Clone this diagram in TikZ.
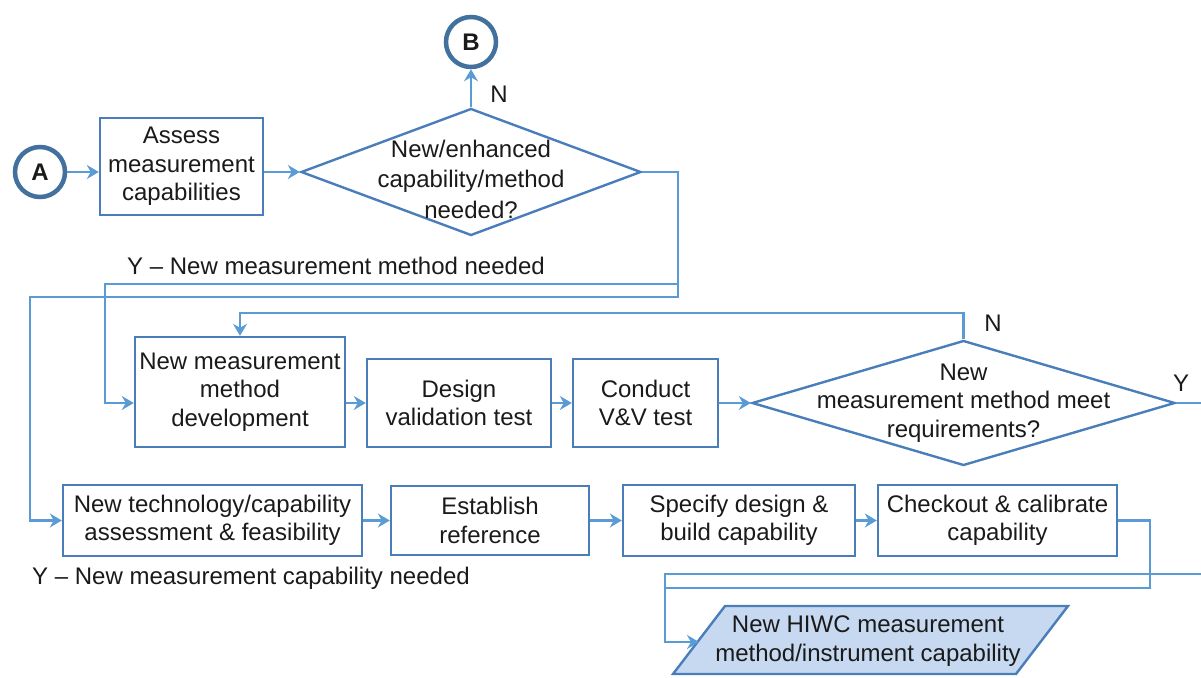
\documentclass[tikz,border=0pt]{standalone}
\usepackage{fontspec}
\setmainfont{Liberation Sans}
\usetikzlibrary{shapes.geometric,arrows.meta}
\definecolor{boxc}{HTML}{4A7EBB}
\definecolor{linec}{HTML}{5B9BD5}
\definecolor{circc}{HTML}{41719C}
\definecolor{parafill}{HTML}{C6D9F1}
\definecolor{txtc}{HTML}{1A1A1A}
\begin{document}
\begin{tikzpicture}[x=1pt,y=-1pt,
  every node/.style={font=\fontsize{24}{28.5}\selectfont, text=txtc},
  txt/.style={align=center, inner sep=0pt},
  box/.style={draw=boxc, line width=2.4pt, align=center, inner sep=0pt},
  dia/.style={diamond, draw=boxc, line width=2.4pt, inner sep=0pt},
  conn/.style={draw=linec, line width=2.2pt},
  arr/.style={conn, -{Stealth[length=12pt,width=14pt,inset=4pt]}},
  circ/.style={circle, draw=circc, line width=4.5pt, minimum size=50pt, inner sep=0pt, font=\fontsize{24}{28}\selectfont\bfseries}]
\useasboundingbox (0,0) rectangle (1201,677);

\node[circ] (A) at (40,172) {A};
\node[circ] (B) at (471,42) {B};
\node[box, minimum width=163pt, minimum height=97pt] (assess) at (181.5,166.5) {Assess\\measurement\\capabilities};
\node[dia, minimum width=340pt, minimum height=127pt] (d1) at (471,172) {};
\node[txt, font=\fontsize{24}{30.5}\selectfont] (d1t) at (471,179) {New/enhanced\\capability/method\\needed?};

\node[box, minimum width=210pt, minimum height=110pt] (nm) at (240,392) {New measurement\\method\\development};
\node[box, minimum width=184pt, minimum height=88pt] (design) at (459,403) {Design\\validation test};
\node[box, minimum width=145pt, minimum height=88pt] (conduct) at (645.5,403) {Conduct\\V\&V test};
\node[dia, minimum width=423pt, minimum height=125pt] (d2) at (963.5,403) {};
\node[txt] (d2t) at (963.5,403) {New\\measurement method meet\\requirements?};

\node[box, minimum width=299pt, minimum height=71pt] (tech) at (212.5,520.5) {New technology/capability\\assessment \& feasibility};
\node[box, minimum width=198pt, minimum height=69pt] (estab) at (490,520.5) {Establish\\reference};
\node[box, minimum width=232pt, minimum height=71pt] (spec) at (739,520.5) {Specify design \&\\build capability};
\node[box, minimum width=239pt, minimum height=71pt] (check) at (997.5,520.5) {Checkout \& calibrate\\capability};

\draw[draw=boxc, fill=parafill, line width=2.4pt] (673,674) -- (725,606) -- (1068,606) -- (1016,674) -- cycle;
\node[txt] (para) at (868,641) {New HIWC measurement\\method/instrument capability};
\coordinate (paraIn) at (699,642);

% labels
\node (lN1) at (499,94) {N};
\node (lY1) at (336,266) {Y -- New measurement method needed};
\node (lN2) at (993,323) {N};
\node (lY2) at (1181,383) {Y};
\node (lY3) at (251,578) {Y -- New measurement capability needed};

% connectors
\draw[arr] (A.east) -- (assess.west |- A.east);
\draw[arr] (assess.east |- d1.west) -- (d1.west);
\draw[arr] (d1.north) -- (B.south);
\coordinate (j1) at (678,284);
\draw[arr] (d1.east) -- (678,172) -- (678,297) -- (30,297) |- (tech.west);
\draw[arr] (j1) -- (105,284) -- (105,403) -- (nm.west |- design.west);
\draw[arr] (nm.east |- design.west) -- (design.west);
\draw[arr] (design) -- (conduct);
\draw[arr] (conduct) -- (d2.west);
\draw[arr] (d2.north) -- (963.5,313) -- (nm.north |- 0,313) -- (nm.north);
\draw[arr] (tech) -- (estab);
\draw[arr] (estab) -- (spec);
\draw[arr] (spec) -- (check);
\draw[arr] (d2.east) -- (1215,403) -- (1215,574) -- (665,574) -- (665,642) -- (paraIn);
\draw[conn] (check.east) -- (1150,520.5) -- (1150,588) -- (665,588);
\end{tikzpicture}
\end{document}
